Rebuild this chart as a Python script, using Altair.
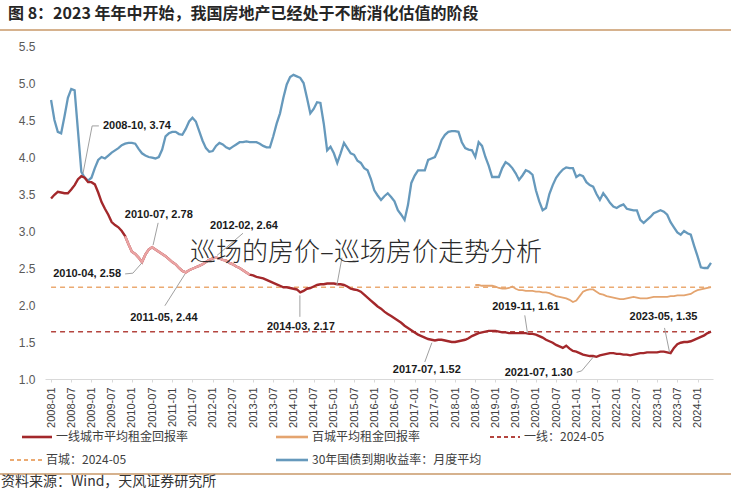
import json
import altair as alt
import pandas as pd

# ---------------- text ----------------
TITLE = "图 8：2023 年年中开始，我国房地产已经处于不断消化估值的阶段"
SOURCE = "资料来源：Wind，天风证券研究所"
WATERMARK = "巡场的房价–巡场房价走势分析"

# ---------------- data ----------------
START = "2008-01"
tick_labels = ["2008-01", "2008-07", "2009-01", "2009-07", "2010-01", "2010-07",
               "2011-01", "2011-07", "2012-01", "2012-07", "2013-01", "2013-07",
               "2014-01", "2014-07", "2015-01", "2015-07", "2016-01", "2016-07",
               "2017-01", "2017-07", "2018-01", "2018-07", "2019-01", "2019-07",
               "2020-01", "2020-07", "2021-01", "2021-07", "2022-01", "2022-07",
               "2023-01", "2023-07", "2024-01"]
y_ticks = [1.0, 1.5, 2.0, 2.5, 3.0, 3.5, 4.0, 4.5, 5.0, 5.5]

series_names = ["一线城市平均租金回报率", "百城平均租金回报率", "一线：2024-05",
                "百城：2024-05", "30年国债到期收益率：月度平均"]

# 30年国债到期收益率：月度平均, monthly from 2008-01
bond_30y = [
    4.77, 4.50, 4.34, 4.32, 4.55, 4.80, 4.92, 4.90, 4.35, 3.80, 3.72, 3.68,  # 2008
    3.72, 3.85, 3.96, 4.00, 3.98, 4.02, 4.06, 4.09, 4.12, 4.16, 4.18, 4.19,  # 2009
    4.19, 4.18, 4.11, 4.05, 4.02, 4.00, 3.99, 3.98, 4.00, 4.10, 4.28, 4.32,  # 2010
    4.34, 4.34, 4.31, 4.30, 4.38, 4.48, 4.53, 4.48, 4.35, 4.22, 4.12, 4.07,  # 2011
    4.08, 4.15, 4.19, 4.17, 4.13, 4.11, 4.14, 4.17, 4.20, 4.20, 4.21, 4.20,  # 2012
    4.20, 4.20, 4.18, 4.15, 4.13, 4.13, 4.28, 4.45, 4.59, 4.80, 4.98, 5.08,  # 2013
    5.11, 5.09, 5.07, 5.00, 4.80, 4.59, 4.65, 4.74, 4.73, 4.45, 4.09, 4.14,  # 2014
    4.05, 3.92, 4.05, 4.19, 4.12, 4.05, 4.03, 3.95, 3.92, 3.85, 3.82, 3.70,  # 2015
    3.55, 3.48, 3.42, 3.47, 3.51, 3.46, 3.40, 3.28, 3.22, 3.15, 3.35, 3.65,  # 2016
    3.75, 3.82, 3.82, 3.82, 3.96, 3.98, 4.00, 4.10, 4.23, 4.30, 4.34, 4.35,  # 2017
    4.35, 4.34, 4.20, 4.12, 4.10, 4.09, 4.00, 4.20, 4.15, 4.00, 3.88, 3.73,  # 2018
    3.73, 3.73, 3.85, 3.93, 3.90, 3.85, 3.78, 3.69, 3.75, 3.82, 3.80, 3.76,  # 2019
    3.55, 3.40, 3.28, 3.31, 3.50, 3.62, 3.72, 3.78, 3.83, 3.86, 3.85, 3.85,  # 2020
    3.73, 3.76, 3.74, 3.66, 3.62, 3.60, 3.50, 3.42, 3.51, 3.45, 3.38, 3.33,  # 2021
    3.31, 3.34, 3.36, 3.30, 3.29, 3.28, 3.28, 3.15, 3.11, 3.15, 3.19, 3.24,  # 2022
    3.26, 3.28, 3.26, 3.22, 3.12, 3.05, 2.98, 2.95, 3.00, 2.97, 2.95, 2.80,  # 2023
    2.66, 2.51, 2.50, 2.50, 2.57,                                            # 2024
]

# 一线城市平均租金回报率, monthly from 2008-01
tier1_yield = [
    3.44, 3.49, 3.53, 3.52, 3.51, 3.51, 3.56, 3.62, 3.70, 3.74, 3.72, 3.66,  # 2008
    3.66, 3.63, 3.52, 3.39, 3.30, 3.22, 3.12, 3.08, 3.05, 3.00, 2.93, 2.82,  # 2009
    2.72, 2.69, 2.64, 2.58, 2.68, 2.75, 2.78, 2.75, 2.72, 2.69, 2.66, 2.62,  # 2010
    2.58, 2.55, 2.50, 2.46, 2.44, 2.47, 2.49, 2.51, 2.53, 2.55, 2.58, 2.61,  # 2011
    2.63, 2.64, 2.63, 2.61, 2.60, 2.57, 2.55, 2.52, 2.50, 2.47, 2.44, 2.41,  # 2012
    2.40, 2.38, 2.37, 2.36, 2.34, 2.32, 2.30, 2.28, 2.26, 2.24, 2.24, 2.23,  # 2013
    2.22, 2.21, 2.17, 2.19, 2.22, 2.23, 2.25, 2.27, 2.28, 2.28, 2.29, 2.29,  # 2014
    2.29, 2.28, 2.28, 2.27, 2.25, 2.22, 2.21, 2.20, 2.18, 2.14, 2.10, 2.06,  # 2015
    2.02, 1.98, 1.95, 1.91, 1.88, 1.85, 1.82, 1.79, 1.76, 1.72, 1.69, 1.66,  # 2016
    1.63, 1.60, 1.58, 1.56, 1.54, 1.53, 1.52, 1.53, 1.53, 1.52, 1.51, 1.50,  # 2017
    1.50, 1.51, 1.52, 1.53, 1.55, 1.58, 1.60, 1.62, 1.63, 1.64, 1.65, 1.65,  # 2018
    1.65, 1.64, 1.63, 1.63, 1.62, 1.62, 1.62, 1.62, 1.62, 1.62, 1.61, 1.61,  # 2019
    1.60, 1.58, 1.56, 1.53, 1.51, 1.49, 1.46, 1.44, 1.42, 1.45, 1.41, 1.38,  # 2020
    1.37, 1.35, 1.33, 1.32, 1.31, 1.31, 1.30, 1.32, 1.33, 1.34, 1.35, 1.35,  # 2021
    1.34, 1.34, 1.33, 1.33, 1.32, 1.33, 1.34, 1.35, 1.35, 1.36, 1.36, 1.36,  # 2022
    1.36, 1.37, 1.37, 1.36, 1.35, 1.42, 1.47, 1.49, 1.50, 1.50, 1.51, 1.53,  # 2023
    1.55, 1.57, 1.59, 1.62, 1.64,                                            # 2024
]

# 百城平均租金回报率, monthly from 2018-07
CITY100_START = "2018-07"
city100_yield = [
    2.27, 2.27, 2.26, 2.26, 2.26, 2.26,                                      # 2018
    2.25, 2.23, 2.22, 2.22, 2.23, 2.25, 2.22, 2.20, 2.20, 2.19, 2.19, 2.19,  # 2019
    2.18, 2.18, 2.17, 2.17, 2.16, 2.14, 2.12, 2.11, 2.10, 2.09, 2.07, 2.04,  # 2020
    2.06, 2.12, 2.18, 2.20, 2.21, 2.21, 2.18, 2.15, 2.14, 2.12, 2.11, 2.10,  # 2021
    2.09, 2.08, 2.08, 2.09, 2.10, 2.11, 2.10, 2.09, 2.09, 2.09, 2.10, 2.11,  # 2022
    2.11, 2.11, 2.11, 2.11, 2.12, 2.12, 2.13, 2.13, 2.13, 2.14, 2.15, 2.18,  # 2023
    2.20, 2.21, 2.22, 2.23, 2.24,                                            # 2024
]

LATEST = "2024-05"
tier1_latest = 1.64
city100_latest = 2.24
highlight_range = ["2009-11", "2012-12"]   # lighter segment of the tier-1 line

# annotations: label, text anchor (month, value), leader polyline
ann_labels = ["2008-10, 3.74", "2010-07, 2.78", "2012-02, 2.64", "2010-04, 2.58",
              "2011-05, 2.44", "2014-03, 2.17", "2017-07, 1.52", "2019-11, 1.61",
              "2021-07, 1.30", "2023-05, 1.35"]
ann_text_m = [25.5, 32.0, 57.3, 10.7, 33.5, 74.2, 111.6, 141.0, 144.8, 181.9]
ann_text_v = [4.42, 3.22, 3.07, 2.42, 1.82, 1.70, 1.12, 1.97, 1.08, 1.84]
leaders = [
    [(14.2, 4.42), (12.2, 4.42), (9.5, 3.78)],
    [(31.8, 3.11), (30.3, 2.81)],
    [(57.0, 2.97), (49.3, 2.67)],
    [(22.0, 2.42), (24.3, 2.43), (27.0, 2.57)],
    [(33.8, 1.99), (39.8, 2.42)],
    [(73.9, 1.84), (73.9, 2.13)],
    [(111.0, 1.23), (113.1, 1.49)],
    [(140.7, 1.86), (141.5, 1.62)],
    [(156.1, 1.09), (157.6, 1.11), (161.1, 1.30)],
    [(182.2, 1.69), (183.7, 1.36)],
    [(86.4, 2.64), (84.9, 2.27)],
]

# ---------------- style ----------------
RED = "#A3282B"
PINK = "#EAA3A3"
ORANGE = "#E4A46F"
BLUE = "#6699BC"
RED_DASH = "#B4453F"
ORANGE_DASH = "#EBAA72"
GREY = "#A0A0A0"
CJK = "Noto Sans CJK SC"
LATIN = "Liberation Sans"

PAD_L, PAD_T, PAD_R, PAD_B = 45, 46, 18, 111
W, H = 668, 333


def midx(s):
    y, mo = s.split("-")
    y0, m0 = START.split("-")
    return (int(y) - int(y0)) * 12 + int(mo) - int(m0)


df_bond = pd.DataFrame({"m": list(range(len(bond_30y))), "v": bond_30y})
df_t1 = pd.DataFrame({"m": list(range(len(tier1_yield))), "v": tier1_yield})
c0 = midx(CITY100_START)
df_c100 = pd.DataFrame({"m": [c0 + i for i in range(len(city100_yield))], "v": city100_yield})
assert len(bond_30y) == midx(LATEST) + 1
assert len(tier1_yield) == midx(LATEST) + 1
assert c0 + len(city100_yield) - 1 == midx(LATEST)

df_ref = pd.DataFrame({
    "m": [0, 0], "m1": [midx(LATEST)] * 2,
    "v": [tier1_latest, city100_latest],
    "c": [RED_DASH, ORANGE_DASH],
})
df_ann = pd.DataFrame({"label": ann_labels, "m": ann_text_m, "v": ann_text_v})
rows = []
for g, pts in enumerate(leaders):
    for o, (m, v) in enumerate(pts):
        rows.append({"g": g, "o": o, "m": m, "v": v})
df_lead = pd.DataFrame(rows)

xscale = alt.Scale(domain=[-1.8, 196.6], nice=False, zero=False)
yscale = alt.Scale(domain=[1.0, 5.5], nice=False, zero=False)
label_expr = f"{json.dumps(tick_labels)}[round(datum.value / 6)]"

x_axis = alt.Axis(values=[midx(t) for t in tick_labels], labelExpr=label_expr,
                  labelAngle=-90, labelFontSize=11, labelFont=LATIN,
                  labelColor="#404040", domainColor="#D9D9D9", tickColor="#D9D9D9",
                  tickSize=3, labelPadding=5, grid=False, labelOverlap=False,
                  labelFlush=False)
y_axis = alt.Axis(values=y_ticks, format=".1f", grid=False, domain=False,
                  ticks=False, labelPadding=10, labelFontSize=12, labelFont=LATIN,
                  labelColor="#595959", labelOverlap=False, labelFlush=False)
X = alt.X("m:Q", scale=xscale, title=None, axis=x_axis)
Y = alt.Y("v:Q", scale=yscale, title=None, axis=y_axis)

one = alt.InlineData(values=[{"k": 1}])

bond_line = alt.Chart(df_bond).mark_line(color=BLUE, strokeWidth=2.3).encode(x=X, y=Y)

ref_lines = alt.Chart(df_ref).mark_rule(strokeDash=[5, 4], strokeWidth=1.5).encode(
    x=X, x2="m1:Q", y=Y, color=alt.Color("c:N", scale=None))

c100_line = alt.Chart(df_c100).mark_line(color=ORANGE, strokeWidth=1.8).encode(x=X, y=Y)
t1_line = alt.Chart(df_t1).mark_line(color=RED, strokeWidth=2.4).encode(x=X, y=Y)
t1_hl = alt.Chart(df_t1).transform_filter(
    (alt.datum.m >= midx(highlight_range[0])) & (alt.datum.m <= midx(highlight_range[1]))
).mark_line(color=PINK, strokeWidth=2.4).encode(x=X, y=Y)

lead_lines = alt.Chart(df_lead).mark_line(color=GREY, strokeWidth=1).encode(
    x=X, y=Y, detail="g:N", order="o:Q")
ann_text = alt.Chart(df_ann).mark_text(
    font=LATIN, fontSize=11, fontWeight="bold", color="#1A1A1A",
    align="center", baseline="middle").encode(x=X, y=Y, text="label:N")

watermark = alt.Chart(one).mark_text(
    font=CJK, fontSize=26, fontWeight=300, color="#2A2A2A",
    align="center", baseline="middle").encode(
    x=alt.value(366 - PAD_L), y=alt.value(253 - PAD_T), text=alt.value(WATERMARK))

title = alt.Chart(one).mark_text(
    font=CJK, fontSize=16, fontWeight="bold", color="#262626",
    align="left", baseline="middle").encode(
    x=alt.value(8 - PAD_L), y=alt.value(14 - PAD_T), text=alt.value(TITLE))

top_rule = alt.Chart(one).mark_rule(color="#D6B28E", strokeWidth=2).encode(
    x=alt.value(0 - PAD_L), x2=alt.value(731 - PAD_L), y=alt.value(30 - PAD_T))
bottom_rule = alt.Chart(one).mark_rule(color="#D6B28E", strokeWidth=2).encode(
    x=alt.value(0 - PAD_L), x2=alt.value(731 - PAD_L), y=alt.value(474 - PAD_T))

source = alt.Chart(one).mark_text(
    font=CJK, fontSize=14, color="#333333", align="left", baseline="middle").encode(
    x=alt.value(1 - PAD_L), y=alt.value(482 - PAD_T), text=alt.value(SOURCE))

# legend (drawn by hand to follow the reference layout)
legend_spec = [
    # name, colour, dashed, symbol x0, symbol x1, row y
    (series_names[0], RED, False, 22, 52, 437),
    (series_names[1], ORANGE, False, 276, 308, 437),
    (series_names[2], RED_DASH, True, 490, 520, 437),
    (series_names[3], ORANGE_DASH, True, 10, 42, 460),
    (series_names[4], BLUE, False, 276, 308, 460),
]
legend_layers = []
for name, col, dashed, x0, x1, ly in legend_spec:
    kw = dict(color=col, strokeWidth=1.8 if dashed else 2.6)
    if dashed:
        kw["strokeDash"] = [4, 3]
    legend_layers.append(alt.Chart(one).mark_rule(**kw).encode(
        x=alt.value(x0 - PAD_L), x2=alt.value(x1 - PAD_L), y=alt.value(ly - PAD_T)))
    legend_layers.append(alt.Chart(one).mark_text(
        font=CJK, fontSize=12, color="#404040", align="left", baseline="middle").encode(
        x=alt.value(x1 + 4 - PAD_L), y=alt.value(ly - PAD_T), text=alt.value(name)))

chart = alt.layer(
    bond_line, ref_lines, c100_line, t1_line, t1_hl, lead_lines, ann_text,
    watermark, title, top_rule, bottom_rule, source, *legend_layers
).properties(
    width=W, height=H,
    autosize=alt.AutoSizeParams(type="none"),
    padding={"left": PAD_L, "top": PAD_T, "right": PAD_R, "bottom": PAD_B},
    background="white",
).configure_view(stroke=None).configure_axis(labelOverlap=False)

chart.save("out.html", embed_options={"renderer": "svg", "actions": False})
